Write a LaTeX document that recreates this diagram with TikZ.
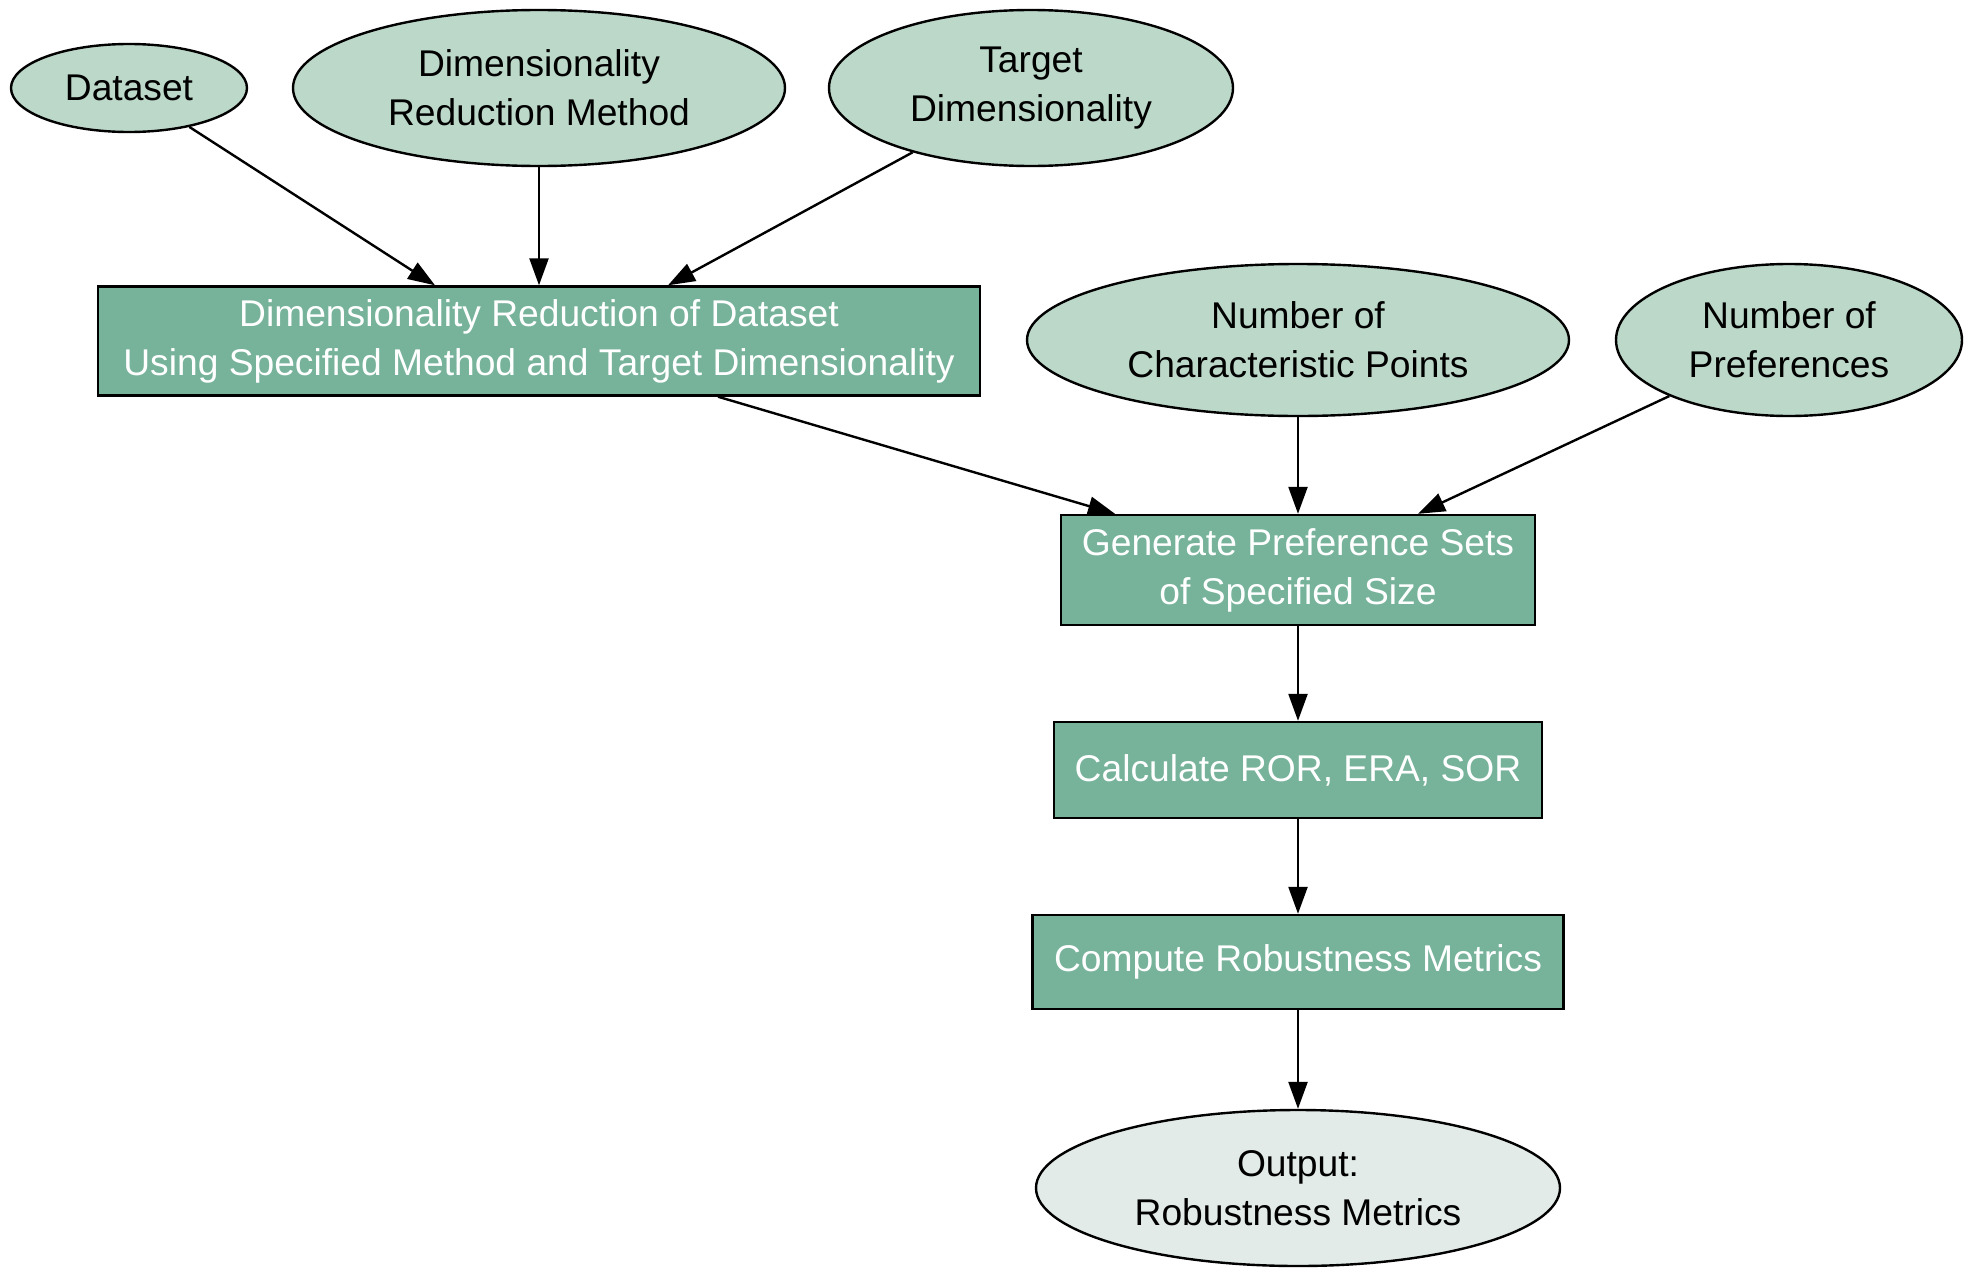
\documentclass[tikz,border=0pt]{standalone}
\usepackage{fontspec}
\setmainfont{Liberation Sans}
\usetikzlibrary{arrows.meta,shapes.geometric}
\definecolor{inC}{HTML}{BCD8C9}
\definecolor{boxC}{HTML}{77B39B}
\definecolor{outC}{HTML}{E2EBE7}
\tikzset{
  base/.style={draw=black, line width=1.2pt, inner sep=0pt, align=center, font=\fontsize{18.6}{24.5}\selectfont},
  inp/.style={base, ellipse, fill=inC, text=black},
  outp/.style={base, ellipse, fill=outC, text=black},
  proc/.style={base, rectangle, fill=boxC, text=white},
  conn/.style={line width=1.2pt, -{Triangle[length=13.5pt,width=9.5pt]}}
}
\begin{document}
\begin{tikzpicture}[x=0.5pt,y=-0.5pt]
\useasboundingbox (0,0) rectangle (1976,1274);
\node[inp, minimum width=118pt, minimum height=44pt] (ds) at (129,88) {Dataset};
\node[inp, minimum width=246pt, minimum height=78pt] (drm) at (539,88) {Dimensionality\\Reduction Method};
\node[inp, minimum width=202pt, minimum height=78pt] (td) at (1031,88) {Target\\Dimensionality};
\node[proc, minimum width=441pt, minimum height=54.5pt] (dr) at (539,341) {Dimensionality Reduction of Dataset\\Using Specified Method and Target Dimensionality};
\node[inp, minimum width=271pt, minimum height=76pt] (ncp) at (1298,340) {Number of\\Characteristic Points};
\node[inp, minimum width=173pt, minimum height=76pt] (np) at (1789,340) {Number of\\Preferences};
\node[proc, minimum width=237pt, minimum height=55pt] (gen) at (1298,570) {Generate Preference Sets\\of Specified Size};
\node[proc, minimum width=244pt, minimum height=48pt] (calc) at (1298,770) {Calculate ROR, ERA, SOR};
\node[proc, minimum width=265.5pt, minimum height=47pt] (comp) at (1298,962) {Compute Robustness Metrics};
\node[outp, minimum width=262pt, minimum height=78pt] (out) at (1298,1188) {Output:\\Robustness Metrics};

\draw[conn] (ds) -- ([xshift=-52pt]dr.north);
\draw[conn] (drm) -- (dr.north);
\draw[conn] (td) -- ([xshift=64.5pt]dr.north);
\draw[conn] ([xshift=89.5pt]dr.south) -- ([xshift=-91.5pt]gen.north);
\draw[conn] (ncp) -- (gen.north);
\draw[conn] (np) -- ([xshift=60pt]gen.north);
\draw[conn] (gen) -- (calc);
\draw[conn] (calc) -- (comp);
\draw[conn] (comp) -- (out);
\end{tikzpicture}
\end{document}
